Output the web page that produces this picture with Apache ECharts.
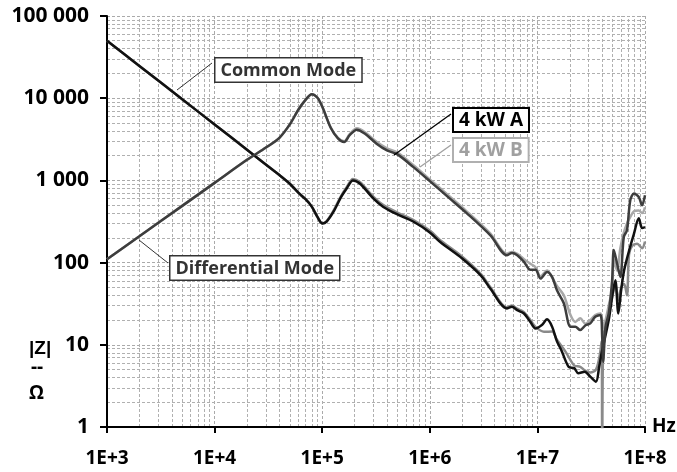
<!DOCTYPE html>
<html>
<head>
<meta charset="utf-8">
<script src="https://cdn.jsdelivr.net/npm/echarts@6/dist/echarts.min.js"></script>
<style>html,body{margin:0;padding:0;background:#fff;}#c{width:677px;height:472px;}</style>
</head>
<body>
<div id="c"></div>
<script>
// ---- data (Hz, Ohm) ----
const freqCM = [1e3, 2e3, 5e3, 1e4, 2e4, 4e4, 5e4, 6e4, 7e4, 8e4, 9e4, 1e5, 1.1e5, 1.27e5, 1.5e5, 1.7e5, 1.93e5, 2.25e5, 3e5, 3.7e5, 5e5, 7e5, 1e6, 1.25e6, 2e6, 3e6, 3.66e6, 5.2e6, 5.8e6, 6.5e6, 7.5e6, 8.6e6, 9.6e6, 1.1e7, 1.23e7, 1.37e7, 1.52e7, 1.67e7, 1.95e7, 2.2e7, 2.4e7, 2.75e7, 3.1e7, 3.5e7, 3.75e7, 3.95e7, 4.6e7, 5e7, 5.3e7, 5.65e7, 6e7, 6.4e7, 7.3e7, 7.9e7, 8.75e7, 9.4e7, 1e8];
const cmA = [50000, 24700, 9700, 4790, 2360, 1160, 910, 708, 590, 480, 363, 300, 316, 413, 630, 810, 1000, 910, 600, 475, 385, 316, 233, 178, 112, 69, 48, 27.7, 29, 26.4, 24, 19, 15.8, 17.4, 20.4, 16.6, 11, 8.6, 5.4, 5.2, 4.5, 4.7, 4.1, 3.55, 5.4, 7.9, 20, 42, 61, 24, 46, 81, 158, 225, 347, 263, 270];

const freqCMB = [1e3, 2e3, 5e3, 1e4, 2e4, 4e4, 5e4, 6e4, 7e4, 8e4, 9e4, 1e5, 1.1e5, 1.27e5, 1.5e5, 1.7e5, 1.93e5, 2.25e5, 3e5, 3.7e5, 5e5, 7e5, 1e6, 1.25e6, 2e6, 3e6, 3.66e6, 5.2e6, 5.8e6, 6.5e6, 7.5e6, 8.6e6, 9.6e6, 1.15e7, 1.37e7, 1.52e7, 1.83e7, 2.2e7, 2.5e7, 2.75e7, 3.1e7, 3.5e7, 3.8e7, 3.95e7, 4.0e7, 4.1e7, 4.6e7, 5e7, 5.3e7, 5.65e7, 6e7, 6.4e7, 6.8e7, 7.1e7, 7.6e7, 8.45e7, 9.4e7, 1e8];
const cmB = [50000, 24700, 9700, 4790, 2360, 1160, 910, 708, 590, 480, 363, 300, 320, 425, 650, 840, 1040, 950, 630, 500, 405, 332, 245, 187, 118, 72, 50, 28.5, 30, 27.5, 25, 20, 16.5, 14.4, 14.5, 11.5, 8.2, 5.6, 5.4, 4.9, 4.6, 5.0, 7.5, 11, 0.4, 12, 24, 40, 55, 35, 50, 55, 40, 125, 160, 170, 150, 180];

const freqDM = [1e3, 2e3, 5e3, 1e4, 2e4, 3e4, 4e4, 5e4, 6e4, 7e4, 8e4, 9e4, 1e5, 1.2e5, 1.4e5, 1.6e5, 1.8e5, 2.1e5, 2.5e5, 3.2e5, 4e5, 5e5, 7e5, 1e6, 1.5e6, 2.2e6, 3.66e6, 5.2e6, 5.8e6, 6.5e6, 7.5e6, 8.6e6, 9.6e6, 1.07e7, 1.23e7, 1.37e7, 1.52e7, 1.76e7, 2.03e7, 2.25e7, 2.5e7, 2.8e7, 3.1e7, 3.45e7, 3.85e7, 4.0e7, 4.08e7, 4.3e7, 4.6e7, 4.95e7, 5.13e7, 5.5e7, 5.9e7, 6.35e7, 6.8e7, 7.3e7, 7.9e7, 8.75e7, 9.4e7, 1e8];
const dmA = [110, 209, 490, 933, 1780, 2510, 3300, 4800, 7240, 9550, 11200, 10200, 7940, 4370, 3240, 2930, 3550, 4140, 3690, 2800, 2320, 2070, 1460, 980, 617, 400, 214, 123, 131, 123, 102, 82, 82, 64, 77, 67, 46, 32, 16.6, 16.6, 15.1, 17.3, 18.2, 21.9, 23, 12.5, 6.2, 16.6, 24, 61, 142, 97.5, 67, 205, 248, 573, 692, 628, 498, 659];
const dmB = [110, 209, 490, 933, 1780, 2510, 3300, 4800, 7240, 9550, 11200, 10200, 7940, 4400, 3300, 3000, 3650, 4300, 3850, 2950, 2450, 2180, 1540, 1030, 650, 420, 225, 128, 135, 128, 110, 97, 88, 68, 80, 66, 52, 40, 23, 19, 21, 18, 20, 23, 24, 20, 16, 20, 30, 48, 110, 80, 150, 230, 300, 360, 420, 430, 400, 470];

const xDecades = [1e3, 1e4, 1e5, 1e6, 1e7];
const yDecades = [1, 10, 100, 1000, 10000];
const minorSteps = [2, 3, 4, 5, 6, 7, 8, 9];

const FONT = '"Open Sans", "DejaVu Sans", sans-serif';

const pairs = (fs, zs) => fs.map((f, i) => [f, zs[i]]);

const gridLines = [];
xDecades.forEach(d => minorSteps.forEach(m => gridLines.push({ xAxis: d * m })));
yDecades.forEach(d => minorSteps.forEach(m => gridLines.push({ yAxis: d * m })));

function yFmt(v) {
  return String(Math.round(v)).replace(/\B(?=(\d{3})+(?!\d))/g, ' ');
}

const chart = echarts.init(document.getElementById('c'), null, { renderer: 'canvas' });

const lineSeries = (name, data, color, extra) => Object.assign({
  name, type: 'line', data, symbol: 'none', smooth: 0.3,
  lineStyle: { color, width: 2.5 }, itemStyle: { color },
  clip: true, silent: true, animation: false
}, extra || {});

chart.setOption({
  animation: false,
  backgroundColor: '#fff',
  grid: { left: 107, right: 32, top: 16, bottom: 45, containLabel: false, outerBoundsMode: 'none' },
  xAxis: {
    type: 'log', logBase: 10, min: 1e3, max: 1e8,
    name: 'Hz', nameLocation: 'end', nameGap: 7,
    nameTextStyle: { fontFamily: FONT, fontWeight: 'bold', fontSize: 19, color: '#000', verticalAlign: 'middle' },
    axisLine: { show: true, lineStyle: { color: '#000', width: 2 } },
    axisTick: { show: true, inside: false, length: 6, lineStyle: { color: '#000', width: 2 } },
    axisLabel: {
      margin: 22, fontFamily: FONT, fontWeight: 'bold', fontSize: 19, color: '#000',
      formatter: v => '1E+' + Math.round(Math.log10(v))
    },
    splitLine: { show: true, lineStyle: { color: '#aaa', width: 1, type: [3, 2] } }
  },
  yAxis: {
    type: 'log', logBase: 10, min: 1, max: 1e5,
    axisLine: { show: true, lineStyle: { color: '#000', width: 2 } },
    axisTick: { show: true, inside: false, length: 7, lineStyle: { color: '#000', width: 2 } },
    axisLabel: {
      margin: 18, fontFamily: FONT, fontWeight: 'bold', fontSize: 21, color: '#000',
      formatter: yFmt
    },
    splitLine: { show: true, lineStyle: { color: '#aaa', width: 1, type: [3, 2] } }
  },
  series: [
    lineSeries('CM B', pairs(freqCMB, cmB), '#8a8a8a', {
      markLine: {
        silent: true, animation: false, symbol: ['none', 'none'], z: 0,
        label: { show: false },
        lineStyle: { color: '#b0b0b0', width: 1, type: [3, 2] },
        emphasis: { disabled: true },
        data: gridLines
      }
    }),
    lineSeries('DM B', pairs(freqDM, dmB), '#a8a8a8'),
    lineSeries('CM A', pairs(freqCM, cmA), '#111111'),
    lineSeries('DM A', pairs(freqDM, dmA), '#3d3d3d')
  ],
  graphic: [
    // Common Mode callout
    { type: 'line', shape: { x1: 177, y1: 90, x2: 212, y2: 63 }, style: { stroke: '#333', lineWidth: 1 }, z: 50 },
    { type: 'text', left: 214, top: 57, z: 50,
      style: { text: 'Common Mode', fontFamily: FONT, fontWeight: 'bold', fontSize: 18, fill: '#333',
        backgroundColor: '#fff', borderColor: '#333', borderWidth: 1.5, padding: [3, 5, 2, 5] } },
    // Differential Mode callout
    { type: 'line', shape: { x1: 139, y1: 240, x2: 168, y2: 263 }, style: { stroke: '#333', lineWidth: 1 }, z: 50 },
    { type: 'text', left: 169, top: 255, z: 50,
      style: { text: 'Differential Mode', fontFamily: FONT, fontWeight: 'bold', fontSize: 18, fill: '#333',
        backgroundColor: '#fff', borderColor: '#333', borderWidth: 1.5, padding: [3, 5, 2, 5] } },
    // 4 kW A
    { type: 'line', shape: { x1: 394, y1: 155, x2: 451, y2: 114 }, style: { stroke: '#000', lineWidth: 1.3 }, z: 50 },
    { type: 'text', left: 452, top: 107, z: 50,
      style: { text: '4 kW A', fontFamily: FONT, fontWeight: 'bold', fontSize: 19, fill: '#000',
        backgroundColor: '#fff', borderColor: '#000', borderWidth: 2, padding: [2, 5, 1, 5] } },
    // 4 kW B
    { type: 'line', shape: { x1: 420, y1: 167, x2: 451, y2: 145 }, style: { stroke: '#a0a0a0', lineWidth: 1.3 }, z: 50 },
    { type: 'text', left: 452, top: 137, z: 50,
      style: { text: '4 kW B', fontFamily: FONT, fontWeight: 'bold', fontSize: 19, fill: '#a0a0a0',
        backgroundColor: '#fff', borderColor: '#b0b0b0', borderWidth: 2, padding: [2, 5, 1, 5] } },
    // Y axis unit
    { type: 'text', left: 29, top: 339, z: 50,
      style: { text: '|Z|', fontFamily: '"Liberation Sans", Arial, sans-serif', fontWeight: 'bold', fontSize: 19, fill: '#000' } },
    { type: 'text', left: 31, top: 358, z: 50,
      style: { text: '--', fontFamily: FONT, fontWeight: 'bold', fontSize: 19, fill: '#000' } },
    { type: 'text', left: 29, top: 384, z: 50,
      style: { text: 'Ω', fontFamily: FONT, fontWeight: 'bold', fontSize: 19, fill: '#000' } }
  ]
});
</script>
</body>
</html>
